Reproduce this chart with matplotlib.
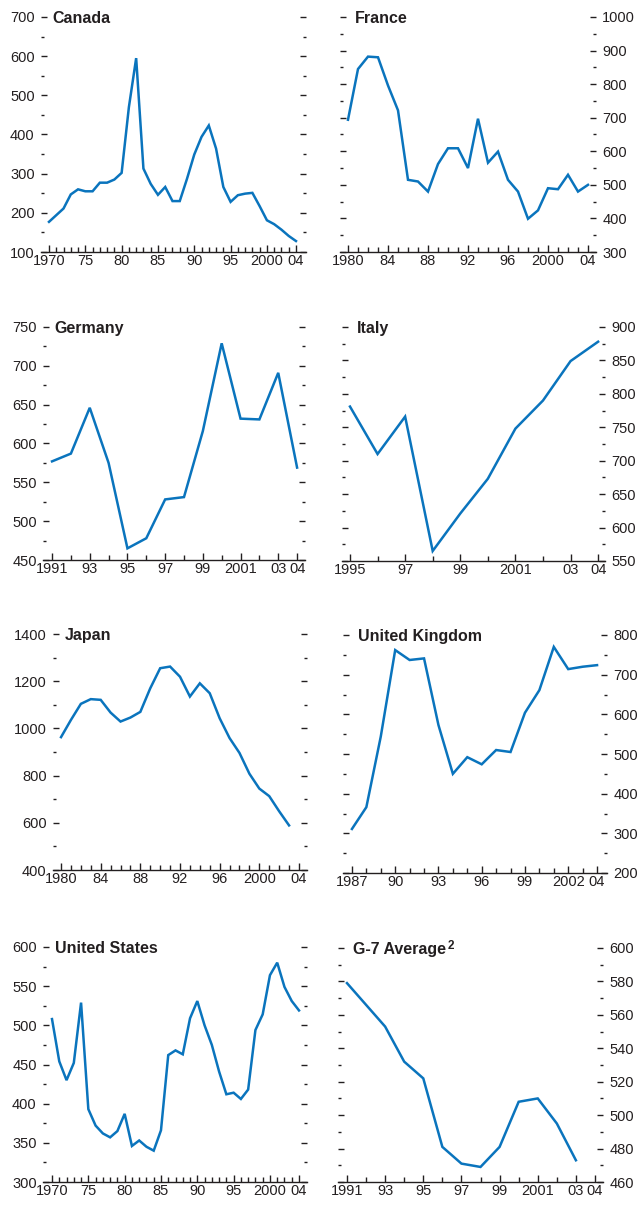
import numpy as np
import matplotlib.pyplot as plt

# data
canada_years = list(range(1970, 2005))
canada_values = [177, 194, 211, 247, 260, 255, 255, 277, 277, 285, 302, 470, 595, 313, 274,
                 246, 266, 230, 230, 287, 349, 394, 423, 364, 266, 228, 245, 249, 251, 217,
                 181, 171, 157, 141, 128]

france_years = list(range(1980, 2005))
france_values = [694, 845, 882, 880, 796, 722, 515, 510, 480, 562, 609, 609, 550, 697, 566,
                 599, 515, 480, 399, 424, 490, 487, 530, 480, 500]

germany_years = list(range(1991, 2005))
germany_values = [577, 587, 646, 575, 465, 478, 528, 531, 616, 729, 632, 631, 691, 569]

italy_years = list(range(1995, 2005))
italy_values = [781, 710, 766, 565, 621, 673, 748, 790, 849, 878]

japan_years = list(range(1980, 2004))
japan_values = [963, 1036, 1104, 1124, 1121, 1067, 1029, 1046, 1070, 1170, 1255, 1262, 1219,
                1135, 1191, 1149, 1043, 959, 896, 808, 745, 713, 649, 589]

uk_years = list(range(1987, 2005))
uk_values = [311, 366, 544, 762, 737, 741, 573, 450, 492, 474, 510, 505, 604, 661, 770, 714,
             720, 724]

us_years = list(range(1970, 2005))
us_values = [508, 454, 430, 452, 529, 393, 372, 362, 357, 365, 387, 346, 353, 345, 340, 366,
             462, 468, 463, 509, 531, 500, 475, 441, 412, 414, 406, 418, 494, 514, 564, 580,
             549, 531, 519]

g7_years = list(range(1991, 2004))
g7_values = [579, 566, 553, 532, 522, 481, 471, 469, 481, 508, 510, 495, 473]

# tick labels
ticks_70 = [1970, 1975, 1980, 1985, 1990, 1995, 2000, 2004]
labels_70 = ['1970', '75', '80', '85', '90', '95', '2000', '04']
ticks_80 = [1980, 1984, 1988, 1992, 1996, 2000, 2004]
labels_80 = ['1980', '84', '88', '92', '96', '2000', '04']
ticks_91 = [1991, 1993, 1995, 1997, 1999, 2001, 2003, 2004]
labels_91 = ['1991', '93', '95', '97', '99', '2001', '03', '04']
ticks_95 = [1995, 1997, 1999, 2001, 2003, 2004]
labels_95 = ['1995', '97', '99', '2001', '03', '04']
ticks_87 = [1987, 1990, 1993, 1996, 1999, 2002, 2004]
labels_87 = ['1987', '90', '93', '96', '99', '2002', '04']

W, H = 639, 1205
BLUE = '#0a74bd'
INK = '#231f20'
FS = 10.5

plt.rcParams['font.family'] = ['Liberation Sans', 'DejaVu Sans']
plt.rcParams['text.color'] = INK

fig = plt.figure(figsize=(W / 100, H / 100), dpi=100)


def add_panel(rect, title, years, vals, xlim, ylim, ystep, yminor, xticks, xlabels, minor_x, side):
    l, r, t, b = rect
    ax = fig.add_axes([l / W, 1 - b / H, (r - l) / W, (b - t) / H])
    ax.plot(years, vals, color=BLUE, lw=1.8, solid_joinstyle='miter', clip_on=False)
    ax.set_xlim(*xlim)
    ax.set_ylim(*ylim)
    for s in ['top', 'left', 'right']:
        ax.spines[s].set_visible(False)
    ax.spines['bottom'].set_color(INK)
    ax.spines['bottom'].set_linewidth(1.0)

    ax.set_xticks(xticks)
    ax.set_xticklabels(xlabels)
    ax.set_xticks(minor_x, minor=True)
    ax.tick_params(axis='x', which='major', direction='in', length=5, width=1, color=INK,
                   labelsize=FS, labelcolor=INK, pad=1.5)
    ax.tick_params(axis='x', which='minor', direction='in', length=3.5, width=1, color=INK)

    ax.set_yticks(np.arange(ylim[0], ylim[1] + 1, ystep))
    ax.set_yticks(np.arange(ylim[0], ylim[1] + 1, yminor), minor=True)
    ax.tick_params(axis='y', which='both', direction='in', left=True, right=True,
                   labelleft=(side == 'left'), labelright=(side == 'right'),
                   width=1, color=INK, labelsize=FS, labelcolor=INK, pad=4.5)
    ax.tick_params(axis='y', which='major', length=4)
    ax.tick_params(axis='y', which='minor', length=2.5)

    dx = 8.5 if side == 'left' else 10.5
    ttl = ax.annotate(title, xy=(0, 1), xycoords='axes fraction', xytext=(dx, -4.5),
                      textcoords='offset points', ha='left', va='baseline',
                      fontsize=11.5, fontweight='bold', color=INK)
    return ax, ttl


add_panel((41, 306, 17, 252), 'Canada', canada_years, canada_values,
          (1968.9, 2005.38), (100, 700), 100, 50, ticks_70, labels_70, range(1970, 2005), 'left')
add_panel((340, 596, 17, 252), 'France', france_years, france_values,
          (1979.2, 2004.8), (300, 1000), 100, 50, ticks_80, labels_80, range(1980, 2005), 'right')
add_panel((43, 305, 327, 560), 'Germany', germany_years, germany_values,
          (1990.52, 2004.42), (450, 750), 50, 25, ticks_91, labels_91, range(1991, 2005), 'left')
add_panel((342, 605, 327, 561), 'Italy', italy_years, italy_values,
          (1994.71, 2004.25), (550, 900), 50, 25, ticks_95, labels_95, range(1995, 2005), 'right')
add_panel((53, 307, 634, 870), 'Japan', japan_years, japan_values,
          (1979.19, 2004.81), (400, 1400), 200, 100, ticks_80, labels_80, range(1980, 2005), 'left')
add_panel((343, 607, 635, 873), 'United Kingdom', uk_years, uk_values,
          (1986.38, 2004.69), (200, 800), 100, 50, ticks_87, labels_87, range(1987, 2005), 'right')
add_panel((43, 307, 947, 1182), 'United States', us_years, us_values,
          (1968.76, 2005.1), (300, 600), 50, 25, ticks_70, labels_70, range(1970, 2005), 'left')
ax, ttl = add_panel((338, 603, 948, 1182), 'G-7 Average', g7_years, g7_values,
                    (1990.53, 2004.42), (460, 600), 20, 10, ticks_91, labels_91, range(1991, 2005), 'right')
ax.annotate('2', xy=(1, 1), xycoords=ttl, xytext=(1.5, 1.5), textcoords='offset points',
            ha='left', va='top', fontsize=8.5, fontweight='bold', color=INK)

fig.savefig('out.png', dpi=100)
